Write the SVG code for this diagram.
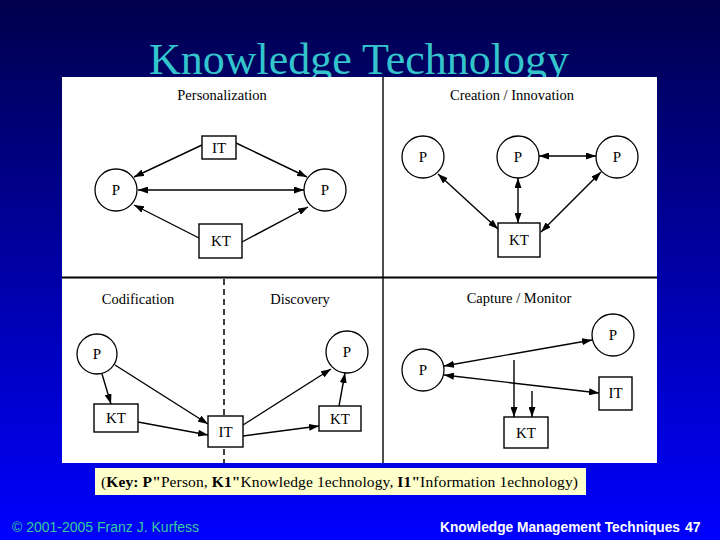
<svg xmlns="http://www.w3.org/2000/svg" width="720" height="540" viewBox="0 0 720 540">
<defs>
<linearGradient id="bg" x1="0" y1="0" x2="0" y2="1">
<stop offset="0" stop-color="#00004c"/>
<stop offset="1" stop-color="#0000ff"/>
</linearGradient>
<marker id="ah" viewBox="0 0 10 7" refX="10" refY="3.5" markerWidth="10" markerHeight="7" markerUnits="userSpaceOnUse" orient="auto-start-reverse">
<path d="M0,0 L10,3.5 L0,7 z" fill="#000"/>
</marker>
<style>
.t{font-family:"Liberation Serif","Times New Roman",serif;fill:#000}
.qt{font-size:14.5px;text-anchor:middle}
.nl{font-size:15px;text-anchor:middle;dominant-baseline:central}
.box{fill:#fff;stroke:#000;stroke-width:1.4}
.c{fill:#fff;stroke:#000;stroke-width:1.3}
.e{stroke:#000;stroke-width:1.4;fill:none;marker-end:url(#ah)}
.d{stroke:#000;stroke-width:1.4;fill:none;marker-end:url(#ah);marker-start:url(#ah)}
</style>
</defs>
<rect width="720" height="540" fill="url(#bg)"/>
<text x="359" y="74" font-family="Liberation Serif, Times New Roman, serif" font-size="44" fill="#33c4cc" text-anchor="middle">Knowledge Technology</text>
<rect x="62" y="77" width="595" height="386" fill="#fff"/>
<g id="dividers">
<line x1="383" y1="77" x2="383" y2="463" stroke="#000" stroke-width="1.4"/>
<line x1="62" y1="277.5" x2="657" y2="277.5" stroke="#000" stroke-width="2"/>
<line x1="224" y1="279" x2="224" y2="463" stroke="#000" stroke-width="1.5" stroke-dasharray="6,4"/>
</g>
<g id="titles" class="t">
<text class="t qt" x="222" y="100">Personalization</text>
<text class="t qt" x="512" y="100">Creation / Innovation</text>
<text class="t qt" x="138" y="304">Codification</text>
<text class="t qt" x="300" y="304">Discovery</text>
<text class="t qt" x="519" y="303">Capture / Monitor</text>
</g>
<g id="connectors">
<line class="e" x1="202" y1="145" x2="134" y2="177"/>
<line class="e" x1="236" y1="143" x2="307" y2="177"/>
<line class="d" x1="138" y1="190" x2="304" y2="190"/>
<line class="e" x1="199" y1="238" x2="134" y2="205"/>
<line class="e" x1="242" y1="242" x2="308" y2="207"/>
<line class="d" x1="438" y1="174" x2="498" y2="229"/>
<line class="d" x1="518" y1="178" x2="518" y2="223"/>
<line class="d" x1="601" y1="172" x2="541" y2="232"/>
<line class="d" x1="539" y1="156" x2="596" y2="156"/>
<line class="e" x1="102" y1="374" x2="111" y2="404"/>
<line class="e" x1="115" y1="365" x2="208" y2="424"/>
<line class="e" x1="138" y1="422" x2="208" y2="435"/>
<line class="e" x1="243" y1="425" x2="331" y2="369"/>
<line class="e" x1="243" y1="436" x2="319" y2="426"/>
<line class="e" x1="339" y1="406" x2="345" y2="373"/>
<line class="d" x1="444" y1="366" x2="592" y2="340"/>
<line class="d" x1="444" y1="375" x2="599" y2="393"/>
<line class="e" x1="514" y1="360" x2="514" y2="417"/>
<line class="e" x1="532" y1="391" x2="532" y2="417" stroke-width="1.8"/>
</g>
<g id="pers-IT"><rect class="box" x="202" y="136" width="34" height="23"/><text class="t nl" x="219" y="148">IT</text></g>
<g id="pers-P1"><circle class="c" cx="116" cy="190" r="21"/><text class="t nl" x="116" y="190">P</text></g>
<g id="pers-P2"><circle class="c" cx="325" cy="190" r="21"/><text class="t nl" x="325" y="190">P</text></g>
<g id="pers-KT"><rect class="box" x="199" y="224" width="43" height="34"/><text class="t nl" x="221" y="241">KT</text></g>
<g id="cre-P1"><circle class="c" cx="423" cy="157" r="21"/><text class="t nl" x="423" y="157">P</text></g>
<g id="cre-P2"><circle class="c" cx="518" cy="157" r="21"/><text class="t nl" x="518" y="157">P</text></g>
<g id="cre-P3"><circle class="c" cx="617" cy="157" r="21"/><text class="t nl" x="617" y="157">P</text></g>
<g id="cre-KT"><rect class="box" x="498" y="223" width="42" height="34"/><text class="t nl" x="519" y="240">KT</text></g>
<g id="cod-P"><circle class="c" cx="97" cy="354" r="20"/><text class="t nl" x="97" y="354">P</text></g>
<g id="cod-KT"><rect class="box" x="94" y="404" width="44" height="28"/><text class="t nl" x="116" y="418">KT</text></g>
<g id="cod-IT"><rect class="box" x="208" y="416" width="35" height="31"/><text class="t nl" x="225.5" y="432">IT</text></g>
<g id="dis-P"><circle class="c" cx="347" cy="352" r="21"/><text class="t nl" x="347" y="352">P</text></g>
<g id="dis-KT"><rect class="box" x="319" y="406" width="42" height="25"/><text class="t nl" x="340" y="419">KT</text></g>
<g id="cap-P1"><circle class="c" cx="613" cy="335" r="21"/><text class="t nl" x="613" y="335">P</text></g>
<g id="cap-P2"><circle class="c" cx="423" cy="370" r="21"/><text class="t nl" x="423" y="370">P</text></g>
<g id="cap-IT"><rect class="box" x="599" y="377" width="33" height="33"/><text class="t nl" x="615.5" y="393">IT</text></g>
<g id="cap-KT"><rect class="box" x="504" y="417" width="44" height="31"/><text class="t nl" x="526" y="433">KT</text></g>
<g id="key">
<rect x="95" y="468" width="491" height="27" fill="#ffffcc"/>
<text x="101" y="487" font-family="Liberation Serif, Times New Roman, serif" font-size="15.5" fill="#000" textLength="477">(<tspan font-weight="bold">Key: P"</tspan>Person, <tspan font-weight="bold">K1"</tspan>Knowledge 1echnology, <tspan font-weight="bold">I1"</tspan>Information 1echnology)</text>
</g>
<g id="footer" font-family="Liberation Sans, Arial, sans-serif" font-size="14">
<text x="12" y="532" fill="#33cc99">© 2001-2005 Franz J. Kurfess</text>
<text x="440" y="532" fill="#fff" font-weight="bold" textLength="240" lengthAdjust="spacingAndGlyphs">Knowledge Management Techniques</text>
<text x="685" y="532" fill="#fff" font-weight="bold">47</text>
</g>
</svg>
